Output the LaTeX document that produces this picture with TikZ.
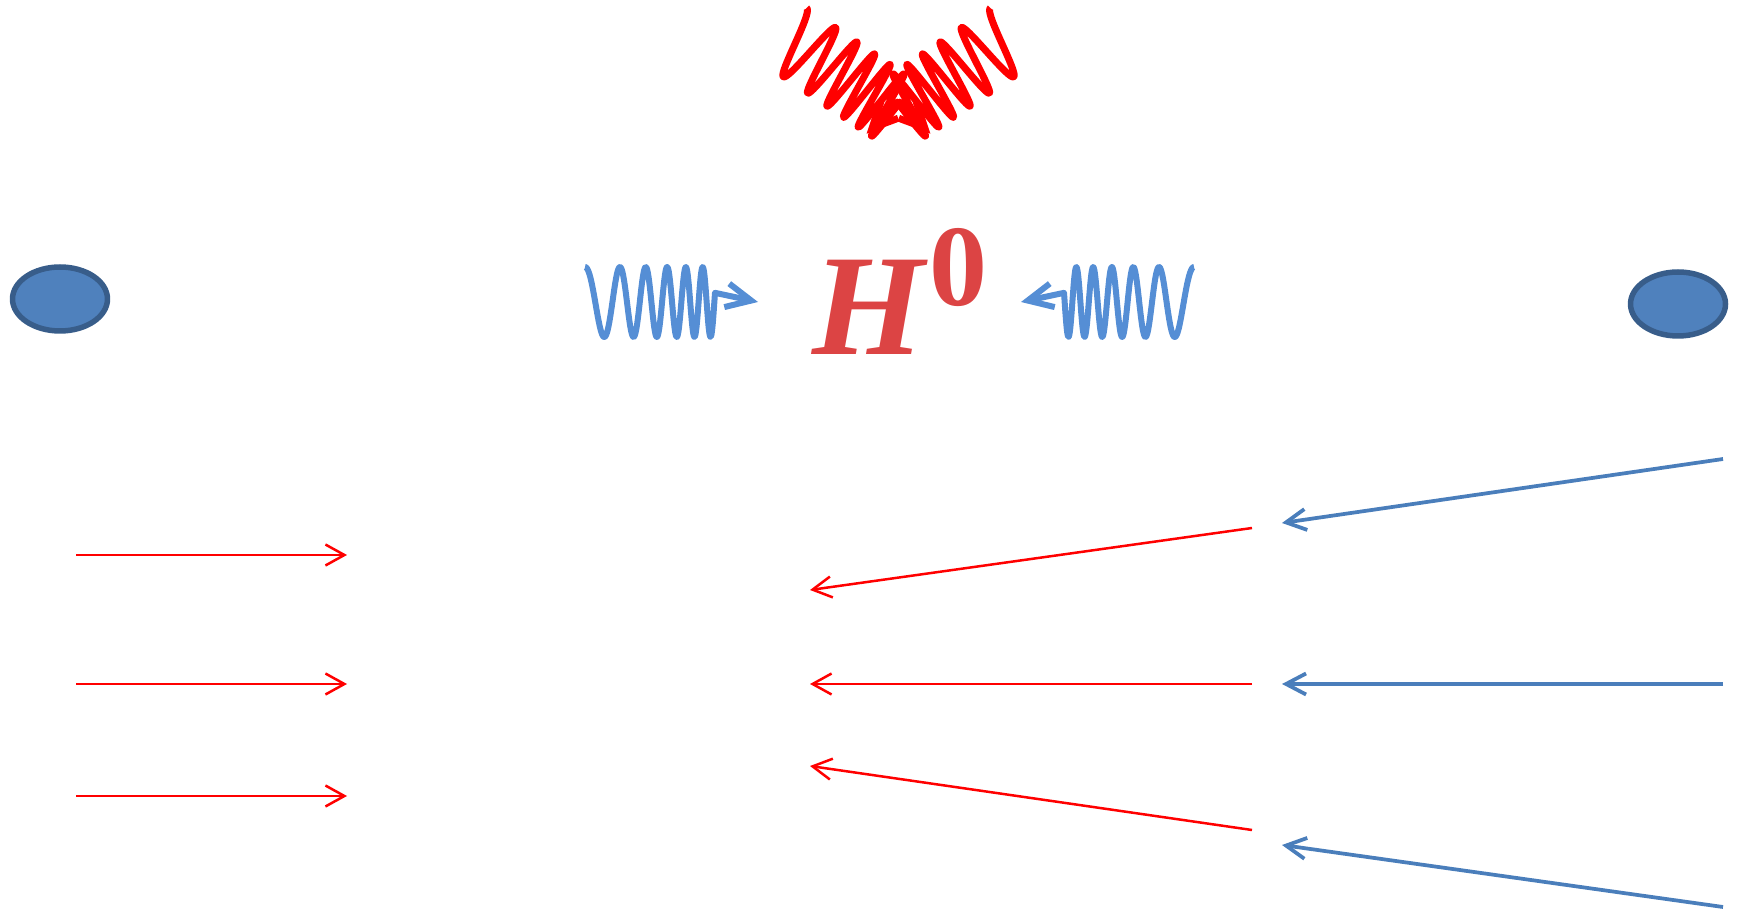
\documentclass[tikz,border=0pt]{standalone}
\usepackage{fontspec}
\setmainfont{Liberation Serif}
\usepackage{tikz}
\usetikzlibrary{arrows.meta,shapes.geometric}
\definecolor{phred}{HTML}{FF0000}
\definecolor{phblue}{HTML}{558ED5}
\definecolor{arrblue}{HTML}{4A7EBB}
\definecolor{ellfill}{HTML}{4F81BD}
\definecolor{elledge}{HTML}{385D8A}
\definecolor{higgsred}{HTML}{DC4444}

\begin{document}
\begin{tikzpicture}[x=0.02cm,y=0.02cm,
  particle/.style={ellipse,draw=elledge,fill=ellfill,line width=0.11cm,
                   minimum width=1.9cm,minimum height=1.28cm,inner sep=0pt},
  redarr/.style={draw=phred,line width=0.05cm,-{Straight Barb[length=0.38cm,width=0.42cm]}},
  bluearr/.style={draw=arrblue,line width=0.075cm,-{Straight Barb[length=0.4cm,width=0.42cm]}},
  higgs/.style={anchor=base west,inner sep=0pt,font=\bfseries,text=higgsred},
  pics/photon/.style={code={\draw[line width=#1,line join=round,-{Straight Barb[length=0.5cm,width=0.48cm]}]
      plot[domain=0:130,samples=220,smooth] (\x,{35*cos(360*(0.02275*\x+0.0001663*\x*\x))})
      -- (173,0);}}
]
\useasboundingbox (0,0) rectangle (1740,909);

\pic[color=phred,rotate=-34] at (787,872) {photon=0.14cm};
\pic[color=phred,rotate=34,xscale=-1] at (1010,872) {photon=0.14cm};

\node[particle] (fermionL) at (60,610) {};
\node[particle] (fermionR) at (1678,605) {};

\pic[color=phblue] at (585,607) {photon=0.12cm};
\pic[color=phblue,xscale=-1] at (1194,607) {photon=0.12cm};

\node[higgs] (h0) at (812,554) {\fontsize{82}{82}\selectfont\itshape H\upshape\kern3pt\raisebox{1.0cm}{\fontsize{66}{66}\selectfont 0}};

\foreach \y [count=\i] in {354,225,113}{
  \coordinate (ls\i) at (76,\y);
  \coordinate (le\i) at (347,\y);
  \draw[redarr] (ls\i) -- (le\i);
}
\foreach \ya/\yb [count=\i] in {381/319,225/225,79/143}{
  \coordinate (ms\i) at (1252,\ya);
  \coordinate (me\i) at (810,\yb);
  \draw[redarr] (ms\i) -- (me\i);
}
\foreach \ya/\yb [count=\i] in {450/386,225/225,2/64}{
  \coordinate (rs\i) at (1723,\ya);
  \coordinate (re\i) at (1282,\yb);
  \draw[bluearr] (rs\i) -- (re\i);
}
\end{tikzpicture}
\end{document}
